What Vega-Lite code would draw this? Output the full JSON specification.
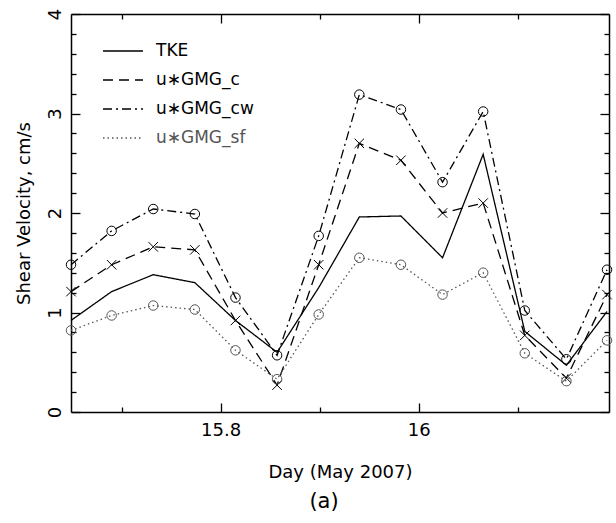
{
  "$schema": "https://vega.github.io/schema/vega-lite/v6.json",
  "width": 538,
  "height": 398,
  "autosize": {"type": "none"},
  "padding": {"left": 71, "top": 14, "right": 7, "bottom": 111},
  "background": "white",
  "title": {"text": "(a)", "orient": "bottom", "fontSize": 21, "fontWeight": "normal", "color": "black", "font": "DejaVu Sans", "dx": -16, "offset": 10},
  "config": {
    "font": "DejaVu Sans",
    "view": {"stroke": null},
    "axis": {
      "domainColor": "black", "domainWidth": 1.5, "tickColor": "black", "tickWidth": 1.3, "ticks": true,
      "labelColor": "black", "labelFontSize": 18, "labelFont": "DejaVu Sans", "labelOverlap": false,
      "titleFontSize": 18, "titleFontWeight": "normal", "titleColor": "black", "titleFont": "DejaVu Sans",
      "grid": false, "tickCount": 100
    }
  },
  "data": {"values": [
    {"day": 15.649, "series": "TKE", "v": 0.92},
    {"day": 15.690, "series": "TKE", "v": 1.21},
    {"day": 15.732, "series": "TKE", "v": 1.38},
    {"day": 15.774, "series": "TKE", "v": 1.30},
    {"day": 15.815, "series": "TKE", "v": 0.92},
    {"day": 15.857, "series": "TKE", "v": 0.60},
    {"day": 15.899, "series": "TKE", "v": 1.25},
    {"day": 15.940, "series": "TKE", "v": 1.96},
    {"day": 15.982, "series": "TKE", "v": 1.97},
    {"day": 16.024, "series": "TKE", "v": 1.55},
    {"day": 16.065, "series": "TKE", "v": 2.59},
    {"day": 16.107, "series": "TKE", "v": 0.81},
    {"day": 16.149, "series": "TKE", "v": 0.47},
    {"day": 16.190, "series": "TKE", "v": 1.01},
    {"day": 15.649, "series": "u∗GMG_c", "v": 1.21},
    {"day": 15.690, "series": "u∗GMG_c", "v": 1.48},
    {"day": 15.732, "series": "u∗GMG_c", "v": 1.66},
    {"day": 15.774, "series": "u∗GMG_c", "v": 1.63},
    {"day": 15.815, "series": "u∗GMG_c", "v": 0.92},
    {"day": 15.857, "series": "u∗GMG_c", "v": 0.27},
    {"day": 15.899, "series": "u∗GMG_c", "v": 1.48},
    {"day": 15.940, "series": "u∗GMG_c", "v": 2.70},
    {"day": 15.982, "series": "u∗GMG_c", "v": 2.53},
    {"day": 16.024, "series": "u∗GMG_c", "v": 2.00},
    {"day": 16.065, "series": "u∗GMG_c", "v": 2.10},
    {"day": 16.107, "series": "u∗GMG_c", "v": 0.77},
    {"day": 16.149, "series": "u∗GMG_c", "v": 0.34},
    {"day": 16.190, "series": "u∗GMG_c", "v": 1.18},
    {"day": 15.649, "series": "u∗GMG_cw", "v": 1.48},
    {"day": 15.690, "series": "u∗GMG_cw", "v": 1.82},
    {"day": 15.732, "series": "u∗GMG_cw", "v": 2.04},
    {"day": 15.774, "series": "u∗GMG_cw", "v": 1.99},
    {"day": 15.815, "series": "u∗GMG_cw", "v": 1.15},
    {"day": 15.857, "series": "u∗GMG_cw", "v": 0.57},
    {"day": 15.899, "series": "u∗GMG_cw", "v": 1.77},
    {"day": 15.940, "series": "u∗GMG_cw", "v": 3.19},
    {"day": 15.982, "series": "u∗GMG_cw", "v": 3.04},
    {"day": 16.024, "series": "u∗GMG_cw", "v": 2.31},
    {"day": 16.065, "series": "u∗GMG_cw", "v": 3.02},
    {"day": 16.107, "series": "u∗GMG_cw", "v": 1.02},
    {"day": 16.149, "series": "u∗GMG_cw", "v": 0.53},
    {"day": 16.190, "series": "u∗GMG_cw", "v": 1.43},
    {"day": 15.649, "series": "u∗GMG_sf", "v": 0.82},
    {"day": 15.690, "series": "u∗GMG_sf", "v": 0.97},
    {"day": 15.732, "series": "u∗GMG_sf", "v": 1.07},
    {"day": 15.774, "series": "u∗GMG_sf", "v": 1.03},
    {"day": 15.815, "series": "u∗GMG_sf", "v": 0.62},
    {"day": 15.857, "series": "u∗GMG_sf", "v": 0.33},
    {"day": 15.899, "series": "u∗GMG_sf", "v": 0.98},
    {"day": 15.940, "series": "u∗GMG_sf", "v": 1.55},
    {"day": 15.982, "series": "u∗GMG_sf", "v": 1.48},
    {"day": 16.024, "series": "u∗GMG_sf", "v": 1.18},
    {"day": 16.065, "series": "u∗GMG_sf", "v": 1.40},
    {"day": 16.107, "series": "u∗GMG_sf", "v": 0.59},
    {"day": 16.149, "series": "u∗GMG_sf", "v": 0.31},
    {"day": 16.190, "series": "u∗GMG_sf", "v": 0.72}
  ]},
  "layer": [
    {
      "mark": {"type": "line", "strokeWidth": 1.3},
      "encoding": {
        "x": {"field": "day", "type": "quantitative",
          "scale": {"domain": [15.649, 16.192], "nice": false, "zero": false},
          "axis": {"orient": "bottom", "title": "Day (May 2007)",
            "values": [15.8, 16.0], "format": "~g", "tickSize": -9,
            "labelPadding": 18, "titlePadding": 24}},
        "y": {"field": "v", "type": "quantitative",
          "scale": {"domain": [0, 4], "nice": false},
          "axis": {"orient": "left", "title": "Shear Velocity, cm/s",
            "values": [0, 1, 2, 3, 4], "format": "d", "tickSize": -9,
            "labelAngle": -90, "labelPadding": 16, "titlePadding": 13}},
        "color": {"field": "series", "type": "nominal",
          "scale": {"domain": ["TKE", "u∗GMG_c", "u∗GMG_cw", "u∗GMG_sf"], "range": ["black", "black", "black", "#555555"]},
          "legend": {"orient": "none", "legendX": 31, "legendY": 16, "title": null,
            "symbolType": "stroke", "symbolSize": 1600, "symbolStrokeWidth": 1.3,
            "labelFontSize": 17, "labelColor": "black", "labelOffset": 12, "rowPadding": -11,
            "encode": {"labels": {"update": {"fill": {"signal": "datum.value === 'u∗GMG_sf' ? '#555555' : 'black'"}}}}}},
        "strokeDash": {"field": "series", "type": "nominal",
          "scale": {"domain": ["TKE", "u∗GMG_c", "u∗GMG_cw", "u∗GMG_sf"], "range": [[1, 0], [10, 6], [9, 4, 2, 4], [1.5, 3]]},
          "legend": {"orient": "none", "legendX": 31, "legendY": 16, "title": null,
            "symbolType": "stroke", "symbolSize": 1600, "symbolStrokeWidth": 1.3,
            "labelFontSize": 17, "labelColor": "black", "labelOffset": 12, "rowPadding": -11,
            "encode": {"labels": {"update": {"fill": {"signal": "datum.value === 'u∗GMG_sf' ? '#555555' : 'black'"}}}}}}
      }
    },
    {
      "transform": [{"filter": "datum.series !== 'TKE'"}],
      "mark": {"type": "point", "filled": false, "strokeWidth": 1, "opacity": 1},
      "encoding": {
        "x": {"field": "day", "type": "quantitative",
          "scale": {"domain": [15.649, 16.192], "nice": false, "zero": false},
          "axis": {"orient": "top", "title": null, "labels": false,
            "values": [15.8, 16.0], "tickSize": -9}},
        "y": {"field": "v", "type": "quantitative",
          "scale": {"domain": [0, 4], "nice": false},
          "axis": {"orient": "right", "title": null, "labels": false,
            "values": [0, 1, 2, 3, 4], "tickSize": -9}},
        "color": {"field": "series", "type": "nominal", "legend": null},
        "shape": {"field": "series", "type": "nominal",
          "scale": {"domain": ["u∗GMG_c", "u∗GMG_cw", "u∗GMG_sf"], "range": ["M-1,-1L1,1M-1,1L1,-1", "circle", "circle"]},
          "legend": null},
        "size": {"value": 90}
      }
    },
    {
      "mark": {"type": "point", "opacity": 0},
      "encoding": {
        "x": {"field": "day", "type": "quantitative",
          "scale": {"domain": [15.649, 16.192], "nice": false, "zero": false},
          "axis": {"orient": "bottom", "title": null, "labels": false, "domain": false,
            "values": [15.7, 15.9, 16.1], "tickSize": -5}},
        "y": {"field": "v", "type": "quantitative",
          "scale": {"domain": [0, 4], "nice": false},
          "axis": {"orient": "left", "title": null, "labels": false, "domain": false,
            "values": [0.2, 0.4, 0.6, 0.8, 1.2, 1.4, 1.6, 1.8, 2.2, 2.4, 2.6, 2.8, 3.2, 3.4, 3.6, 3.8], "tickSize": -5}}
      }
    },
    {
      "mark": {"type": "point", "opacity": 0},
      "encoding": {
        "x": {"field": "day", "type": "quantitative",
          "scale": {"domain": [15.649, 16.192], "nice": false, "zero": false},
          "axis": {"orient": "top", "title": null, "labels": false, "domain": false,
            "values": [15.7, 15.9, 16.1], "tickSize": -5}},
        "y": {"field": "v", "type": "quantitative",
          "scale": {"domain": [0, 4], "nice": false},
          "axis": {"orient": "right", "title": null, "labels": false, "domain": false,
            "values": [0.2, 0.4, 0.6, 0.8, 1.2, 1.4, 1.6, 1.8, 2.2, 2.4, 2.6, 2.8, 3.2, 3.4, 3.6, 3.8], "tickSize": -5}}
      }
    }
  ],
  "resolve": {"axis": {"x": "independent", "y": "independent"}}
}
